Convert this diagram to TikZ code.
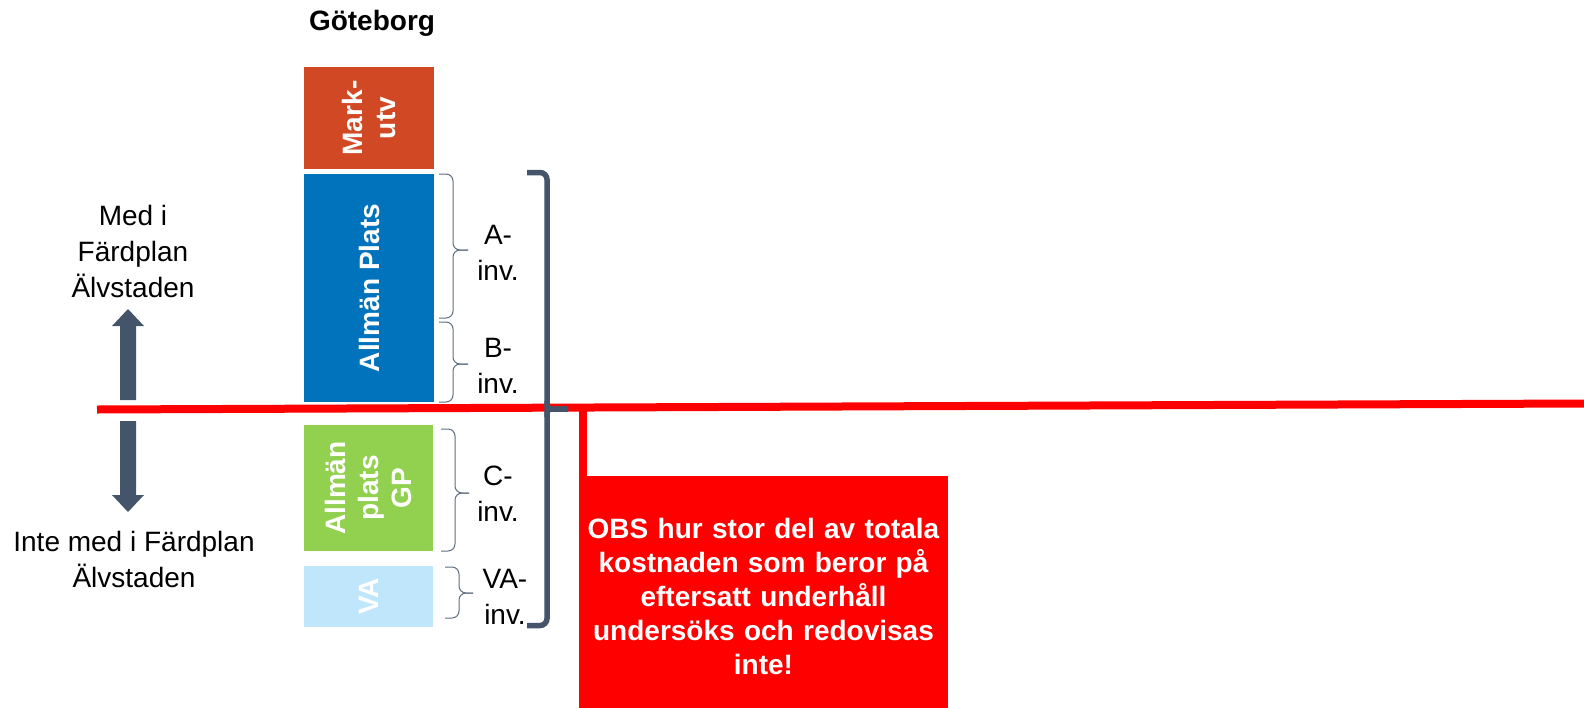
\documentclass[tikz,border=0pt]{standalone}
\usepackage{fontspec}
\setmainfont{Liberation Sans}
\definecolor{slate}{RGB}{68,84,106}
\definecolor{markorange}{RGB}{209,72,37}
\definecolor{apblue}{RGB}{0,115,188}
\definecolor{gpgreen}{RGB}{146,208,80}
\definecolor{valight}{RGB}{192,230,251}
\definecolor{obsred}{RGB}{255,0,0}
\begin{document}
\begin{tikzpicture}[x=1pt,y=-1pt,
  colbox/.style={draw=none, inner sep=0pt, text=white, rotate=90,
    font=\fontsize{28}{33}\selectfont\bfseries, align=center},
  lbl/.style={font=\fontsize{28}{36}\selectfont, align=center, inner sep=0pt},
  thinbrace/.style={draw=slate!85, line width=1pt, rounded corners=7pt},
  bigbracket/.style={draw=slate, line width=5.5pt, rounded corners=7pt},
  redline/.style={draw=obsred, line width=8pt},
  fatarrow/.style={fill=slate, draw=none},
  obsbox/.style={fill=obsred, draw=none, text=white, inner sep=0pt,
    font=\fontsize{28}{34}\selectfont\bfseries, align=center}
]
\useasboundingbox (0,0) rectangle (1584,707);

% title
\node[font=\fontsize{28}{33}\selectfont\bfseries, inner sep=0pt] (title) at (372,23) {Göteborg};

% red dividing line
\coordinate (rl) at (97,409.5);
\coordinate (rr) at (1584,403.5);
\draw[redline] (rl) -- (rr);

% red note box
\node[obsbox, minimum width=369pt, minimum height=240pt, text width=360pt] (obs) at (763.5,596) {OBS hur stor del av totala\\kostnaden som beror på\\eftersatt underhåll\\undersöks och redovisas\\inte!};
\coordinate (rj) at (583,408);
\draw[draw=obsred, line width=8pt] (rj) -- (rj |- obs.north);

% coloured boxes
\node[colbox, fill=markorange, minimum width=102pt, minimum height=130pt] (mark) at (369,118) {Mark-\\utv};
\node[colbox, fill=apblue, minimum width=228pt, minimum height=130pt] (ap) at (369,288) {Allmän Plats};
\node[colbox, fill=gpgreen, minimum width=126pt, minimum height=129pt] (gp) at (368.5,488) {Allmän\\plats\\GP};
\node[colbox, fill=valight, minimum width=61pt, minimum height=129pt] (va) at (368.5,596.5) {VA};

% small braces (top, stem x, tip x, bottom, left x)
\draw[thinbrace] (439,174) -- (453,174) -- (453,250) -- (468,250);
\draw[thinbrace] (439,318) -- (453,318) -- (453,250) -- (468,250);
\draw[thinbrace] (439,322) -- (453,322) -- (453,364) -- (468,364);
\draw[thinbrace] (439,402) -- (453,402) -- (453,364) -- (468,364);
\draw[thinbrace] (441,429) -- (455,429) -- (455,493) -- (469,493);
\draw[thinbrace] (441,551) -- (455,551) -- (455,493) -- (469,493);
\draw[thinbrace] (445,567) -- (459,567) -- (459,593) -- (473,593);
\draw[thinbrace] (445,618) -- (459,618) -- (459,593) -- (473,593);

% brace labels
\node[lbl] (alab) at (498,253) {A-\\inv.};
\node[lbl] (blab) at (498,366) {B-\\inv.};
\node[lbl] (clab) at (498,494) {C-\\inv.};
\node[lbl] (valab) at (505,597) {VA-\\inv.};

% big bracket
\coordinate (bt) at (527,172.5);
\coordinate (bb) at (527,625.5);
\coordinate (btip) at (568,409);
\draw[bigbracket] (bt) -- (547,172.5) -- (547,625.5) -- (bb);
\draw[draw=slate, line width=5.5pt, rounded corners=4pt] (547,401) -- (547,409) -- (btip);
\draw[draw=slate, line width=5.5pt, rounded corners=4pt] (547,417) -- (547,409) -- (btip);

% arrows
\fill[fatarrow] (120,400) -- (120,326) -- (112,326) -- (128,309) -- (144,326) -- (136,326) -- (136,400) -- cycle;
\fill[fatarrow] (120,421) -- (120,495) -- (112,495) -- (128,512) -- (144,495) -- (136,495) -- (136,421) -- cycle;

% side labels
\node[lbl] (med) at (133,251) {Med i\\Färdplan\\Älvstaden};
\node[lbl] (inte) at (134,559) {Inte med i Färdplan\\Älvstaden};
\end{tikzpicture}
\end{document}
